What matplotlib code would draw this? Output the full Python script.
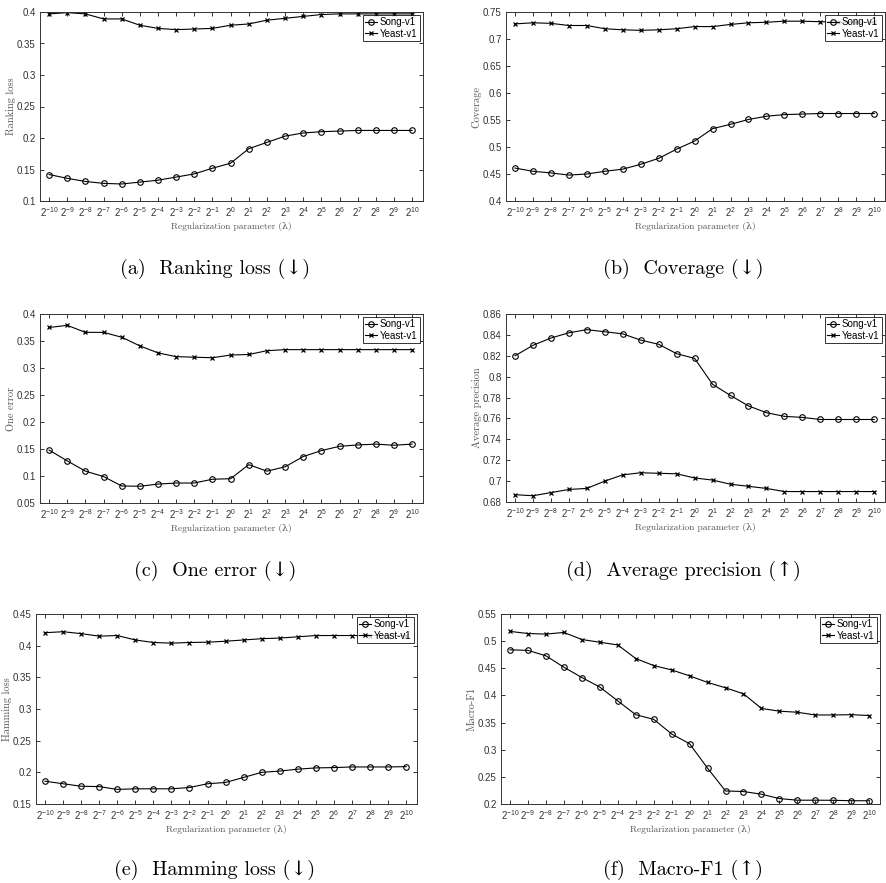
import matplotlib
matplotlib.use("Agg")
import matplotlib.pyplot as plt
from matplotlib.ticker import FuncFormatter, MultipleLocator

# regularization parameter exponents: 2^-10 ... 2^10
exponents = list(range(-10, 11))
x_labels = [r"$2^{%d}$" % e for e in exponents]

series_names = ["Song-v1", "Yeast-v1"]

ranking_song = [0.142, 0.136, 0.131, 0.128, 0.127, 0.130, 0.133, 0.138, 0.143, 0.152, 0.160,
                0.183, 0.193, 0.203, 0.208, 0.210, 0.211, 0.212, 0.212, 0.212, 0.212]
ranking_yeast = [0.397, 0.399, 0.397, 0.389, 0.389, 0.379, 0.374, 0.372, 0.373, 0.374, 0.379,
                 0.381, 0.387, 0.390, 0.393, 0.396, 0.397, 0.397, 0.397, 0.397, 0.397]

coverage_song = [0.461, 0.455, 0.452, 0.448, 0.450, 0.455, 0.459, 0.468, 0.479, 0.496, 0.511,
                 0.534, 0.542, 0.551, 0.557, 0.560, 0.561, 0.562, 0.562, 0.562, 0.562]
coverage_yeast = [0.728, 0.730, 0.729, 0.725, 0.725, 0.719, 0.717, 0.716, 0.717, 0.719, 0.723,
                  0.723, 0.727, 0.730, 0.731, 0.733, 0.733, 0.732, 0.731, 0.731, 0.731]

one_error_song = [0.148, 0.128, 0.109, 0.099, 0.0815, 0.081, 0.085, 0.087, 0.087, 0.094, 0.095,
                  0.121, 0.109, 0.117, 0.136, 0.147, 0.155, 0.1575, 0.159, 0.157, 0.159]
one_error_yeast = [0.375, 0.379, 0.366, 0.366, 0.357, 0.341, 0.328, 0.321, 0.320, 0.319, 0.324,
                   0.325, 0.332, 0.334, 0.334, 0.334, 0.334, 0.334, 0.334, 0.334, 0.334]

avg_prec_song = [0.820, 0.830, 0.837, 0.842, 0.845, 0.843, 0.841, 0.835, 0.831, 0.822, 0.8175,
                 0.7927, 0.782, 0.772, 0.7655, 0.762, 0.761, 0.759, 0.759, 0.759, 0.759]
avg_prec_yeast = [0.687, 0.686, 0.689, 0.692, 0.693, 0.700, 0.706, 0.708, 0.7075, 0.707, 0.703,
                  0.701, 0.697, 0.695, 0.693, 0.690, 0.690, 0.690, 0.690, 0.690, 0.690]

hamming_song = [0.186, 0.182, 0.178, 0.1775, 0.173, 0.174, 0.174, 0.174, 0.176, 0.182, 0.184,
                0.192, 0.200, 0.202, 0.205, 0.207, 0.2075, 0.2085, 0.2085, 0.2085, 0.209]
hamming_yeast = [0.4205, 0.422, 0.419, 0.415, 0.416, 0.409, 0.405, 0.404, 0.405, 0.4055, 0.407,
                 0.409, 0.411, 0.412, 0.414, 0.416, 0.416, 0.416, 0.416, 0.416, 0.416]

macro_f1_song = [0.484, 0.483, 0.473, 0.452, 0.433, 0.4155, 0.390, 0.3645, 0.356, 0.329, 0.311,
                 0.266, 0.224, 0.223, 0.218, 0.210, 0.207, 0.207, 0.2068, 0.206, 0.206]
macro_f1_yeast = [0.518, 0.514, 0.513, 0.516, 0.503, 0.498, 0.493, 0.468, 0.455, 0.447, 0.436,
                  0.424, 0.414, 0.403, 0.376, 0.371, 0.369, 0.364, 0.364, 0.3645, 0.363]

ylabels = ["Ranking loss", "Coverage", "One error", "Average precision", "Hamming loss", "Macro-F1"]
captions = ["(a)  Ranking loss (\u2193)", "(b)  Coverage (\u2193)", "(c)  One error (\u2193)",
            "(d)  Average precision (\u2191)", "(e)  Hamming loss (\u2193)", "(f)  Macro-F1 (\u2191)"]
ylims = [(0.1, 0.4), (0.4, 0.75), (0.05, 0.4), (0.68, 0.86), (0.15, 0.45), (0.2, 0.55)]
ysteps = [0.05, 0.05, 0.05, 0.02, 0.05, 0.05]

panels = [(ranking_song, ranking_yeast), (coverage_song, coverage_yeast),
          (one_error_song, one_error_yeast), (avg_prec_song, avg_prec_yeast),
          (hamming_song, hamming_yeast), (macro_f1_song, macro_f1_yeast)]

plt.rcParams["font.family"] = ["Liberation Sans", "DejaVu Sans"]
plt.rcParams["mathtext.fontset"] = "custom"
plt.rcParams["mathtext.rm"] = "Liberation Sans"
plt.rcParams["mathtext.it"] = "Liberation Sans:italic"
plt.rcParams["mathtext.bf"] = "Liberation Sans:bold"

W, H = 886, 883
# axes boxes in pixels: left, top, right, bottom
boxes = [(40, 12, 423, 201), (506, 12, 885, 201),
         (40, 314, 423, 503), (506, 314, 885, 502),
         (36, 614, 417, 804), (501, 614, 880, 804)]
caption_pos = [(215, 269), (683, 269), (215, 571), (683, 571), (215, 870), (683, 870)]

serif = ["cmr10", "DejaVu Serif"]
tick_color = "#333333"
label_color = "#555555"

fig = plt.figure(figsize=(W / 100, H / 100), dpi=100)

for i, (song, yeast) in enumerate(panels):
    l, t, r, b = boxes[i]
    ax = fig.add_axes([l / W, 1 - b / H, (r - l) / W, (b - t) / H])
    ax.plot(exponents, song, "-o", color="black", lw=0.8, ms=4,
            mfc="none", mew=0.8, label=series_names[0])
    ax.plot(exponents, yeast, "-x", color="black", lw=0.8, ms=3,
            mew=0.9, label=series_names[1])
    ax.set_xlim(-10.5, 10.6)
    ax.set_ylim(*ylims[i])
    ax.set_xticks(exponents)
    ax.set_xticklabels(x_labels)
    ax.yaxis.set_major_locator(MultipleLocator(ysteps[i]))
    ax.yaxis.set_major_formatter(FuncFormatter(lambda v, p: "%g" % round(v, 4)))
    ax.tick_params(direction="in", top=True, right=True, length=3, width=0.7,
                   labelsize=7, colors=tick_color, pad=3)
    for sp in ax.spines.values():
        sp.set_color(tick_color)
        sp.set_linewidth(0.7)
    ax.set_ylabel(ylabels[i], family=serif, fontsize=7.5, color=label_color, labelpad=1)
    ax.set_xlabel("Regularization parameter (\u03bb)", family=serif, fontsize=6.8,
                  color=label_color, labelpad=2)
    leg = ax.legend(loc="upper right", fontsize=7, frameon=True, fancybox=False,
                    handlelength=1.2, handletextpad=0.3, borderpad=0.25,
                    labelspacing=0.15, borderaxespad=0.3)
    leg.get_frame().set_edgecolor("black")
    leg.get_frame().set_linewidth(0.7)

    cx, cy = caption_pos[i]
    fig.text(cx / W, 1 - cy / H, captions[i], family=serif, fontsize=14.5,
             ha="center", va="center", color="black")

fig.savefig("out.png", dpi=100)
